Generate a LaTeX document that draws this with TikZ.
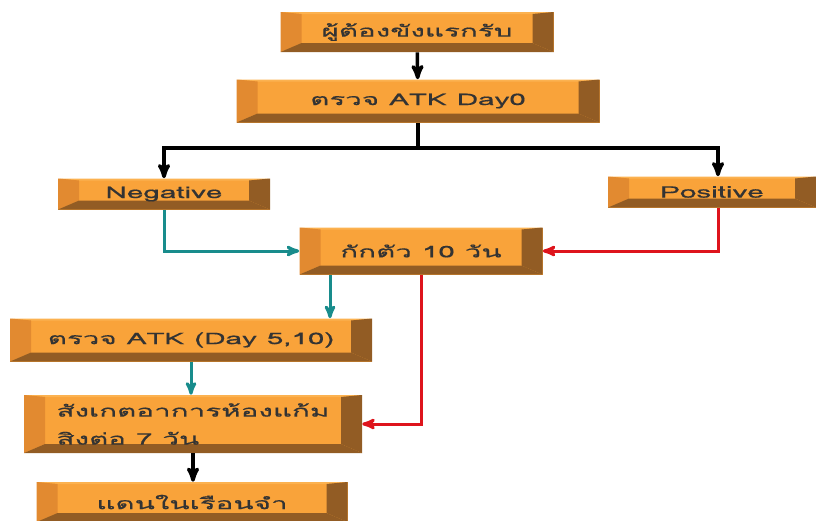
\documentclass[tikz,border=0pt]{standalone}
\usepackage{fontspec}
\newfontfamily\thaifont[Script=Thai,FakeStretch=1.85,FakeBold=0.6]{Loma}
\usepackage{tikz}
\usetikzlibrary{arrows}

\definecolor{faceor}{RGB}{249,163,58}
\definecolor{leftor}{RGB}{226,138,48}
\definecolor{topor}{RGB}{252,178,80}
\definecolor{darkor}{RGB}{146,92,36}
\definecolor{tealln}{RGB}{24,140,140}
\definecolor{redln}{RGB}{222,20,28}

\begin{document}
\begin{tikzpicture}[x=1pt,y=-1pt,>=stealth',semithick]
\tikzstyle{bevbox}=[rectangle,fill=faceor,inner sep=0pt,text=black!80,
  font=\thaifont\fontsize{16}{28}\selectfont,
  path picture={
    \fill[topor] (path picture bounding box.north west) -- (path picture bounding box.north east)
      -- ([xshift=-21pt,yshift=-2pt]path picture bounding box.north east)
      -- ([xshift=21pt,yshift=-2pt]path picture bounding box.north west) -- cycle;
    \fill[leftor] (path picture bounding box.north west) -- ([xshift=21pt,yshift=-2pt]path picture bounding box.north west)
      -- ([xshift=21pt,yshift=9pt]path picture bounding box.south west) -- (path picture bounding box.south west) -- cycle;
    \fill[darkor] (path picture bounding box.north east) -- ([xshift=-21pt,yshift=-2pt]path picture bounding box.north east)
      -- ([xshift=-21pt,yshift=9pt]path picture bounding box.south east) -- (path picture bounding box.south east) -- cycle;
    \fill[darkor] (path picture bounding box.south west) -- ([xshift=21pt,yshift=9pt]path picture bounding box.south west)
      -- ([xshift=-21pt,yshift=9pt]path picture bounding box.south east) -- (path picture bounding box.south east) -- cycle;
  }]
\tikzstyle{blk}=[->,line width=3.5pt,black]
\tikzstyle{tl}=[->,line width=3pt,tealln]
\tikzstyle{rd}=[->,line width=3pt,redln]
\useasboundingbox (0,0) rectangle (816,520);

\node[bevbox,minimum width=273pt,minimum height=40pt] (entry) at (417,32) {ผู้ต้องขังแรกรับ};
\node[bevbox,minimum width=363pt,minimum height=43pt] (atk0) at (418,101) {ตรวจ ATK Day0};
\node[bevbox,minimum width=212pt,minimum height=31pt] (neg) at (164,194) {Negative};
\node[bevbox,minimum width=208pt,minimum height=31pt] (pos) at (712,192) {Positive};
\node[bevbox,minimum width=243pt,minimum height=47pt] (quar) at (421,251) {กักตัว 10 วัน};
\node[bevbox,minimum width=362pt,minimum height=43pt] (atk2) at (191,340) {ตรวจ ATK (Day 5,10)};
\node[bevbox,minimum width=338pt,minimum height=58pt,align=left] (obs) at (193,424) {สังเกตอาการห้องแก้ม\\สิงต่อ 7 วัน};
\node[bevbox,minimum width=311pt,minimum height=40pt] (cell) at (192,502) {แดนในเรือนจำ};

\draw[blk] (entry) -- (atk0);
\draw[blk] (atk0.south) -- ++(0,25) -| (neg.north);
\draw[blk] (atk0.south) -- ++(0,25) -| ([xshift=6pt]pos.north);
\draw[tl] (neg.south) |- (quar.west);
\draw[rd] ([xshift=6pt]pos.south) |- (quar.east);
\draw[tl] ([xshift=-91pt]quar.south) -- ([xshift=-91pt]quar.south |- atk2.north);
\draw[rd] (quar.south) |- (obs.east);
\draw[tl] (atk2.south) -- (atk2.south |- obs.north);
\draw[blk] (obs) -- (obs |- cell.north);
\end{tikzpicture}
\end{document}
